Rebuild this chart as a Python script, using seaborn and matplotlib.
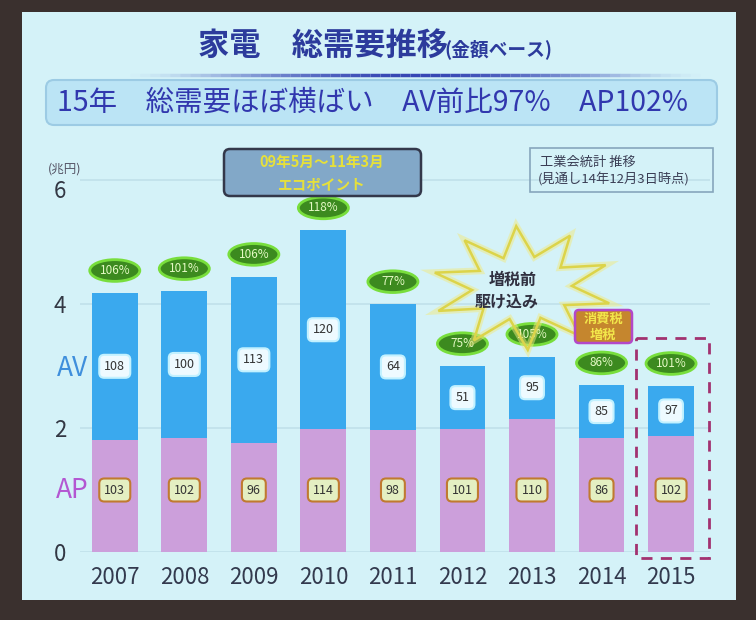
import numpy as np
import pandas as pd
import seaborn as sns
import matplotlib.pyplot as plt
from matplotlib.patches import Ellipse, FancyBboxPatch, Rectangle, Polygon

# данные (兆円)
years = ['2007', '2008', '2009', '2010', '2011', '2012', '2013', '2014', '2015']
av = [2.37, 2.37, 2.68, 3.21, 2.03, 1.02, 1.00, 0.85, 0.81]
ap = [1.81, 1.84, 1.76, 1.98, 1.97, 1.98, 2.15, 1.84, 1.87]
total_growth = ['106%', '101%', '106%', '118%', '77%', '75%', '105%', '86%', '101%']
av_ratio = ['108', '100', '113', '120', '64', '51', '95', '85', '97']
ap_ratio = ['103', '102', '96', '114', '98', '101', '110', '86', '102']
y_ticks = [0, 2, 4, 6]

df = pd.DataFrame({'year': years, 'AV': av, 'AP': ap})
df['total'] = df['AV'] + df['AP']

sns.set_style('white')
plt.rcParams['font.family'] = ['Noto Sans CJK JP', 'DejaVu Sans']

blue = '#3aa9ee'
pink = '#cc9fdb'
slide_bg = '#d4f2f8'

fig = plt.figure(figsize=(7.56, 6.2), dpi=100, facecolor='#3a302e')

# фон слайда (пиксельные координаты)
bg = fig.add_axes([0, 0, 1, 1], zorder=-1)
bg.set_xlim(0, 756)
bg.set_ylim(620, 0)
bg.axis('off')
bg.add_patch(Rectangle((22, 12), 714, 588, fc=slide_bg, ec='none'))

bg.text(198, 46, '家電　総需要推移', ha='left', va='center', fontsize=22.5,
        fontweight='bold', color='#2c3b9c')
bg.text(444, 49, '(金額ベース)', ha='left', va='center', fontsize=13.5,
        fontweight='bold', color='#2c3b9c')
# линия под заголовком, темнее в середине
xs = np.linspace(120, 700, 59)
for k in range(len(xs) - 1):
    a = np.sin(np.pi * (xs[k] - 120) / 580) ** 1.5
    bg.plot([xs[k], xs[k + 1]], [75, 75], color='#3646b4', lw=2.5, alpha=a,
            solid_capstyle='butt')
bg.add_patch(FancyBboxPatch((46, 80), 671, 45, boxstyle='round,pad=0,rounding_size=8',
                            fc='#bbe4f5', ec='#9ccbe4', lw=1.5))
bg.text(57, 103, '15年　総需要ほぼ横ばい　AV前比97%　AP102%', ha='left', va='center',
        fontsize=20.5, color='#3137ae')

bg.text(65, 169, '(兆円)', ha='center', va='center', fontsize=9, color='#555566')
bg.text(72, 369, 'AV', ha='center', va='center', fontsize=19, color='#3f8fdc')
bg.text(72, 491, 'AP', ha='center', va='center', fontsize=19, color='#b357d2')

# сам график
ax = fig.add_axes([80 / 756, 68 / 620, 630 / 756, 432 / 620])
ax.set_facecolor('none')
sns.barplot(data=df, x='year', y='total', color=blue, width=0.66, saturation=1,
            linewidth=0, ax=ax)
sns.barplot(data=df, x='year', y='AP', color=pink, width=0.66, saturation=1,
            linewidth=0, ax=ax)
ax.set_xlim(-0.5, 8.56)
ax.set_ylim(0, 432 / 62)
ax.set_yticks(y_ticks)
ax.set(xlabel='', ylabel='')
ax.yaxis.grid(True, color='#c0e0ea', lw=1.2)
ax.set_axisbelow(True)
sns.despine(ax=ax, left=True, bottom=True)
ax.tick_params(axis='y', length=0, labelsize=16, pad=10, labelcolor='#333844')
ax.tick_params(axis='x', length=0, labelsize=16, pad=10, labelcolor='#333a4e')
ax.get_yticklabels()[-1].set_va('top')

for i in range(len(years)):
    tot = df['total'][i]
    ax.add_patch(Ellipse((i, tot + 0.36), 0.72, 0.35, fc='#3c8a1f', ec='#78de3c',
                         lw=2, clip_on=False, zorder=4))
    ax.text(i, tot + 0.36, total_growth[i], ha='center', va='center', fontsize=8.5,
            color='#e4f9c4', zorder=5)
    ax.text(i, ap[i] + av[i] / 2, av_ratio[i], ha='center', va='center', fontsize=9,
            color='#333333', zorder=5,
            bbox=dict(boxstyle='round,pad=0.4', fc='#eefaff', ec='#c2f1ff', lw=1.5))
    ax.text(i, 1.0, ap_ratio[i], ha='center', va='center', fontsize=9, color='#333333',
            zorder=5,
            bbox=dict(boxstyle='round,pad=0.4', fc='#e4efc2', ec='#c07a30', lw=1.5))

# выноски поверх графика
top = fig.add_axes([0, 0, 1, 1], zorder=5)
top.set_xlim(0, 756)
top.set_ylim(620, 0)
top.axis('off')
top.patch.set_alpha(0)

top.add_patch(FancyBboxPatch((224, 149), 197, 47, boxstyle='round,pad=0,rounding_size=6',
                             fc='#82a8c8', ec='#33384a', lw=1.8))
top.text(322, 162, '09年5月～11年3月', ha='center', va='center', fontsize=10.5,
         fontweight='bold', color='#e6e03a')
top.text(322, 184, 'エコポイント', ha='center', va='center', fontsize=10.5,
         fontweight='bold', color='#e6e03a')

top.add_patch(Rectangle((530, 148), 183, 44, fc='none', ec='#86a6bc', lw=1.2))
top.text(540, 162, '工業会統計 推移', ha='left', va='center', fontsize=9.5, color='#3a3e55')
top.text(538, 180, '(見通し14年12月3日時点)', ha='left', va='center', fontsize=9.5,
         color='#3a3e55')

# звезда "増税前 駆け込み"
n_spikes = 10
ang = np.linspace(0, 2 * np.pi, 2 * n_spikes, endpoint=False) + 0.25
rx = np.where(np.arange(2 * n_spikes) % 2 == 0, 90, 50)
ry = np.where(np.arange(2 * n_spikes) % 2 == 0, 62, 32)
star = np.column_stack([522 + rx * np.cos(ang), 288 + ry * np.sin(ang)])
top.add_patch(Polygon(star, closed=True, fc='none', ec='#f0ea80', lw=5, alpha=0.5))
top.add_patch(Polygon(star, closed=True, fc='none', ec='#dcd44a', lw=1.8))
top.text(513, 280, '増税前', ha='center', va='center', fontsize=11.5, fontweight='bold',
         color='#303040')
top.text(507, 301, '駆け込み', ha='center', va='center', fontsize=11.5, fontweight='bold',
         color='#303040')

top.add_patch(FancyBboxPatch((575, 310), 57, 33, boxstyle='round,pad=0,rounding_size=4',
                             fc='#c5862e', ec='#b348c8', lw=1.8))
top.text(603, 319, '消費税', ha='center', va='center', fontsize=9.5, fontweight='bold',
         color='#f2e64a')
top.text(603, 335, '増税', ha='center', va='center', fontsize=9.5, fontweight='bold',
         color='#f2e64a')

top.add_patch(Rectangle((636, 338), 73, 220, fc='none', ec='#a23270', lw=2,
                        linestyle=(0, (4, 3))))

fig.savefig('out.png', dpi=100, facecolor=fig.get_facecolor())
